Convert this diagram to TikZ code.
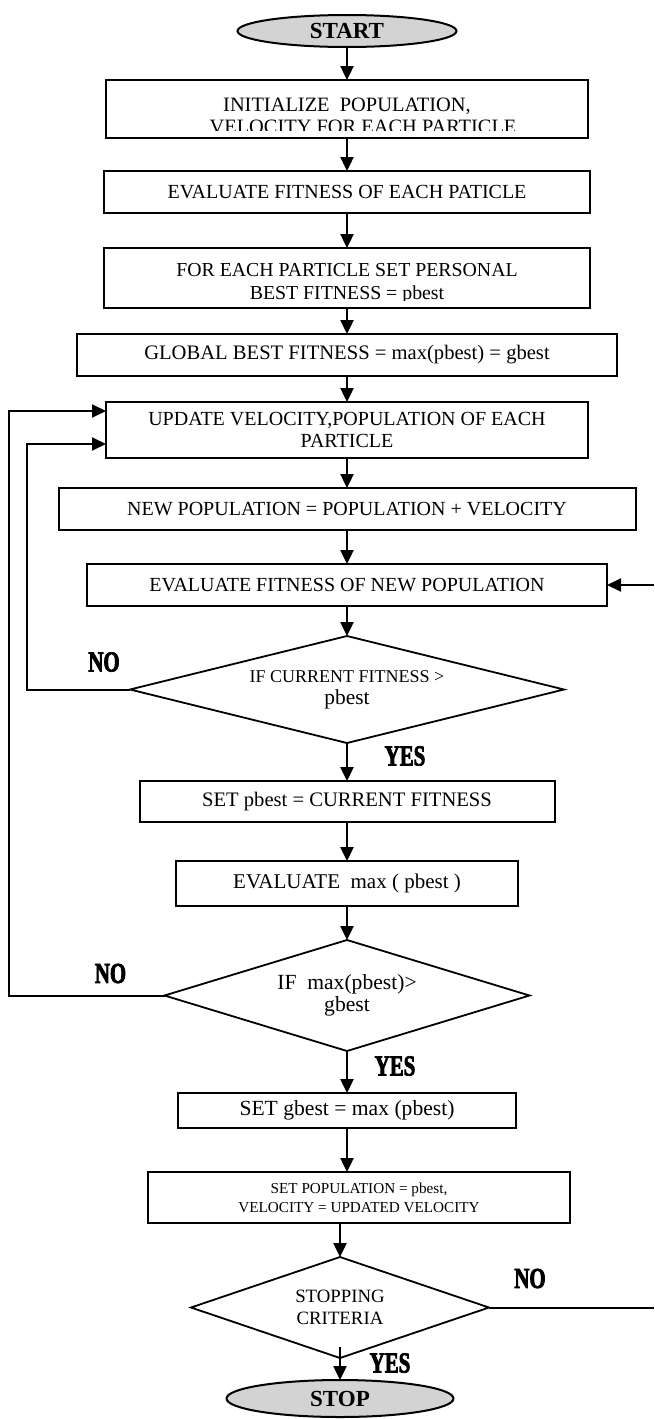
\documentclass[tikz,border=0pt]{standalone}
\usepackage{fontspec}
\setmainfont{Liberation Serif}
\newfontfamily\ynfont{Liberation Serif Bold}[FakeStretch=0.72,FakeBold=2.5]
\usepackage{tikz}
\usetikzlibrary{positioning, arrows.meta, shapes.geometric}
\definecolor{termgray}{RGB}{211,211,211}

\begin{document}
\begin{tikzpicture}[
  node distance=16pt,
  box/.style={draw, line width=1pt, inner sep=0pt, outer sep=0pt, align=center, font=\fontsize{10}{11}\selectfont},
  dec/.style={diamond, draw, line width=0.9pt, inner sep=0pt, outer sep=0pt, align=center},
  term/.style={ellipse, draw, fill=termgray, line width=1pt, inner sep=0pt, outer sep=0pt, font=\fontsize{11.5}{12}\selectfont\bfseries},
  yn/.style={inner sep=0pt, font=\ynfont\fontsize{14.5}{15}\selectfont},
  arr/.style={-{Triangle[width=6.5pt,length=7pt]}, line width=1.2pt},
  link/.style={line width=1pt},
]
\coordinate (nw) at (0,0);
\coordinate (se) at (327pt,-709.5pt);
\useasboundingbox (nw) rectangle (se);

\node[term, minimum width=109.5pt, minimum height=16pt] (start) at (173.5pt,-15.5pt) {START};
\node[box, minimum width=241pt, minimum height=29pt, below=16.5pt of start] (init) {};
\begin{scope}
  \clip (init.north west) rectangle ([yshift=4pt]init.south east);
  \node[anchor=north, inner sep=0pt, align=center, font=\fontsize{10.2}{11}\selectfont] (initText) at ([yshift=-9pt]init.north) {INITIALIZE\ \ POPULATION,\\\hspace*{16pt}VELOCITY FOR EACH PARTICLE};
\end{scope}
\node[box, minimum width=243pt, minimum height=21pt, below=16.5pt of init, font=\fontsize{10}{11}\selectfont] (evalEach) {EVALUATE FITNESS OF EACH PATICLE};
\node[box, minimum width=243pt, minimum height=30pt, below=17.5pt of evalEach] (pbestSet) {};
\begin{scope}
  \clip (pbestSet.north west) rectangle ([yshift=4pt]pbestSet.south east);
  \node[anchor=north, inner sep=0pt, align=center, font=\fontsize{9.9}{11.5}\selectfont] (pbestText) at ([yshift=-7.6pt]pbestSet.north) {FOR EACH PARTICLE SET PERSONAL\\BEST FITNESS = pbest};
\end{scope}
\node[box, minimum width=270pt, minimum height=21pt, below=13pt of pbestSet, font=\fontsize{10.3}{11}\selectfont] (gbestSet) {GLOBAL BEST FITNESS = max(pbest) = gbest};
\node[box, minimum width=241pt, minimum height=28pt, below=13pt of gbestSet, font=\fontsize{10}{11}\selectfont] (update) {UPDATE VELOCITY,POPULATION OF EACH\\PARTICLE};
\node[box, minimum width=288.5pt, minimum height=21pt, below=15pt of update] (newPop) {NEW POPULATION = POPULATION + VELOCITY};
\node[box, minimum width=260pt, minimum height=21pt, below=17pt of newPop] (evalNew) {EVALUATE FITNESS OF NEW POPULATION};
\node[dec, aspect=4.06, minimum width=217pt, minimum height=53.5pt, below=15pt of evalNew, font=\fontsize{10.7}{11}\selectfont] (checkP) {{\fontsize{9}{11}\selectfont IF CURRENT FITNESS >}\\pbest};
\node[box, minimum width=207.5pt, minimum height=20.5pt, below=19pt of checkP, font=\fontsize{10.3}{11}\selectfont] (setP) {SET pbest = CURRENT FITNESS};
\node[box, minimum width=171pt, minimum height=22.5pt, below=19.5pt of setP, font=\fontsize{10.5}{11}\selectfont] (evalMax) {EVALUATE\ \ max ( pbest )};
\node[dec, aspect=3.29, minimum width=182.5pt, minimum height=55.5pt, below=17pt of evalMax, font=\fontsize{10.8}{11}\selectfont] (checkG) {IF\ \ max(pbest)>\\gbest};
\node[box, minimum width=169pt, minimum height=17.5pt, below=21pt of checkG, font=\fontsize{10.8}{11}\selectfont] (setG) {SET gbest = max (pbest)};
\node[box, minimum width=211pt, minimum height=25.5pt, below=22pt of setG, xshift=6pt, font=\fontsize{7.6}{9.5}\selectfont] (setPop) {SET POPULATION = pbest,\\VELOCITY = UPDATED VELOCITY};
\node[dec, aspect=2.95, minimum width=149pt, minimum height=50.5pt, below=17pt of setPop, xshift=-9.5pt, font=\fontsize{9.4}{11}\selectfont] (stopCheck) {STOPPING\\CRITERIA};
\node[term, minimum width=113.5pt, minimum height=18.5pt, below=11pt of stopCheck] (stop) {STOP};

\draw[arr] (start) -- (init);
\draw[arr] (init) -- (evalEach);
\draw[arr] (evalEach) -- (pbestSet);
\draw[arr] (pbestSet) -- (gbestSet);
\draw[arr] (gbestSet) -- (update);
\draw[arr] (update) -- (newPop);
\draw[arr] (newPop) -- (evalNew);
\draw[arr] (evalNew) -- (checkP);
\draw[arr] (checkP) -- (setP);
\draw[arr] (setP) -- (evalMax);
\draw[arr] (evalMax) -- (checkG);
\draw[arr] (checkG) -- (setG);
\draw[arr] (setG.south) -- (setG.south |- setPop.north);
\draw[arr] (stopCheck.north |- setPop.south) -- (stopCheck.north);
\draw[arr] ([yshift=5.5pt]stopCheck.south) -- (stop);

% loops back to the update step
\draw[arr, line width=1pt] (checkP.west) -- ++(-51.5pt,0) |- ([yshift=-21pt]update.north west);
\draw[arr, line width=1pt] (checkG.west) -- ++(-78pt,0) |- ([yshift=-4.5pt]update.north west);
\draw[arr, line width=1pt] (evalNew.east -| se) -- (evalNew.east);
\draw[link] (stopCheck.east) -- (stopCheck.east -| se);

\node[yn] (no1) at ([xshift=-13pt,yshift=13.75pt]checkP.west) {NO};
\node[yn] (yes1) at ([xshift=29pt,yshift=-6.5pt]checkP.south) {YES};
\node[yn] (no2) at ([xshift=-27pt,yshift=11pt]checkG.west) {NO};
\node[yn] (yes2) at ([xshift=24pt,yshift=-7.5pt]checkG.south) {YES};
\node[yn] (no3) at ([xshift=20.5pt,yshift=14.5pt]stopCheck.east) {NO};
\node[yn] (yes3) at ([xshift=25pt,yshift=-2.5pt]stopCheck.south) {YES};
\end{tikzpicture}
\end{document}
